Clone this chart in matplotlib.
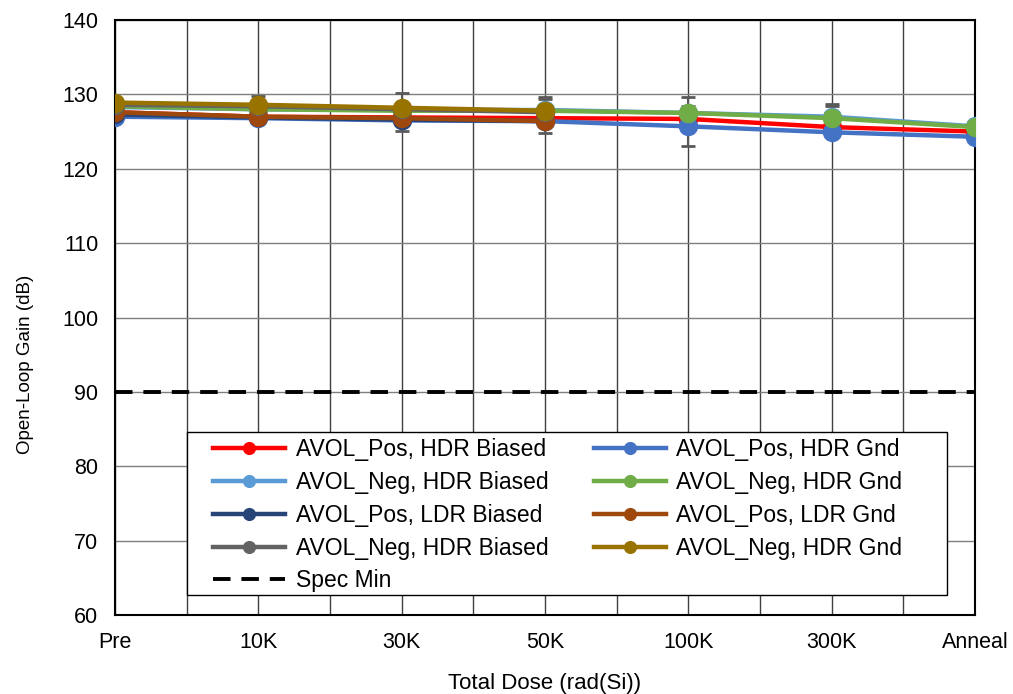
import matplotlib
matplotlib.use("Agg")
import matplotlib.pyplot as plt
from matplotlib.patches import Rectangle
import numpy as np

plt.rcParams['font.family'] = ['Liberation Sans', 'DejaVu Sans']

categories = ["Pre", "10K", "30K", "50K", "100K", "300K", "Anneal"]

# HDR series (all dose points)
pos_hdr_biased = [127.6, 127.0, 126.9, 126.8, 126.7, 125.6, 125.0]
pos_hdr_gnd = [127.0, 126.8, 126.5, 126.4, 125.7, 124.9, 124.3]
neg_hdr_biased = [128.3, 128.0, 127.9, 127.9, 127.5, 127.0, 125.7]
neg_hdr_gnd = [128.4, 128.0, 127.8, 127.8, 127.5, 126.8, 125.6]
# LDR series (Pre .. 50K)
pos_ldr_biased = [127.3, 126.9, 126.6, 126.4]
pos_ldr_gnd = [127.6, 127.0, 126.8, 126.4]
neg_ldr_biased = [128.6, 128.4, 128.0, 127.6]
neg_ldr_gnd = [128.9, 128.6, 128.2, 127.8]

# error bar half-widths
err_pos_hdr_biased = [0.3, 0.3, 0.3, 0.3, 0.3, 0.3, 0.3]
err_pos_hdr_gnd = [0.3, 0.3, 0.3, 0.3, 2.7, 0.3, 0.3]
err_neg_hdr_biased = [0.3, 0.3, 0.3, 0.3, 0.3, 1.4, 0.3]
err_neg_hdr_gnd = [0.3, 0.3, 0.3, 0.3, 2.1, 1.9, 0.3]
err_pos_ldr_biased = [0.3, 0.3, 1.5, 1.6]
err_pos_ldr_gnd = [0.3, 0.3, 0.3, 0.3]
err_neg_ldr_biased = [0.3, 0.3, 0.3, 1.8]
err_neg_ldr_gnd = [0.3, 1.2, 2.0, 1.8]

spec_min = 90

labels = ["AVOL_Pos, HDR Biased", "AVOL_Pos, HDR Gnd",
          "AVOL_Neg, HDR Biased", "AVOL_Neg, HDR Gnd",
          "AVOL_Pos, LDR Biased", "AVOL_Pos, LDR Gnd",
          "AVOL_Neg, HDR Biased", "AVOL_Neg, HDR Gnd"]
colors = ["#FF0000", "#4472C4", "#5B9BD5", "#70AD47",
          "#264478", "#9E480E", "#636363", "#997300"]
series = [pos_hdr_biased, pos_hdr_gnd, neg_hdr_biased, neg_hdr_gnd,
          pos_ldr_biased, pos_ldr_gnd, neg_ldr_biased, neg_ldr_gnd]
errors = [err_pos_hdr_biased, err_pos_hdr_gnd, err_neg_hdr_biased, err_neg_hdr_gnd,
          err_pos_ldr_biased, err_pos_ldr_gnd, err_neg_ldr_biased, err_neg_ldr_gnd]

W, H = 1013, 694
fig = plt.figure(figsize=(W / 100, H / 100), dpi=100)
ax = fig.add_axes([115 / W, 1 - 615 / H, 860 / W, 595 / H])

x_all = np.arange(len(categories))
ax.set_xlim(0, len(categories) - 1)
ax.set_ylim(60, 140)

# gridlines
for xv in np.arange(0, len(categories) - 0.99, 0.5):
    ax.axvline(xv, color="#404040", lw=1.0, zorder=0)
for yv in range(60, 141, 10):
    ax.axhline(yv, color="#7f7f7f", lw=1.0, zorder=0)

handles = []
for vals, errs, c, lab in zip(series, errors, colors, labels):
    xs = x_all[:len(vals)]
    ax.errorbar(xs, vals, yerr=errs, fmt="none", ecolor="#595959",
                elinewidth=1.5, capsize=4.7, capthick=2.0, zorder=2)
    h, = ax.plot(xs, vals, color=c, lw=3.2, marker="o", markersize=13,
                 label=lab, zorder=3)
    handles.append(h)

spec, = ax.plot([0, len(categories) - 1], [spec_min, spec_min], color="black",
                lw=2.8, linestyle=(0, (4.5, 2.8)), label="Spec Min", zorder=3)

ax.set_xticks(x_all)
ax.set_xticklabels(categories)
ax.set_yticks(range(60, 141, 10))
ax.tick_params(axis="both", length=0, labelsize=15.5)
ax.tick_params(axis="x", pad=12)
ax.tick_params(axis="y", pad=12)
for s in ax.spines.values():
    s.set_color("black")
    s.set_linewidth(1.5)

fig.text(545 / W, 1 - 684 / H, "Total Dose (rad(Si))", fontsize=16,
         ha="center", va="center")
fig.text(25 / W, 1 - 364 / H, "Open-Loop Gain (dB)", fontsize=13.5,
         ha="center", va="center", rotation=90)

# legend box
frame = Rectangle((72 / 860, 20 / 595), 760 / 860, 163 / 595, transform=ax.transAxes,
                  facecolor="white", edgecolor="black", lw=1.0, zorder=4)
ax.add_patch(frame)

leg_handles = [handles[i] for i in [0, 2, 4, 6]] + [spec] + [handles[i] for i in [1, 3, 5, 7]]
leg = ax.legend(leg_handles, [h.get_label() for h in leg_handles], ncol=2,
                loc="upper left", bbox_to_anchor=(98 / 860, 177 / 595),
                fontsize=16.5, frameon=False, markerscale=0.65,
                handlelength=3.15, handletextpad=0.45, borderaxespad=0,
                labelspacing=0.43, borderpad=0, columnspacing=2.0)
leg.set_zorder(5)

fig.savefig("out.png", dpi=100)
